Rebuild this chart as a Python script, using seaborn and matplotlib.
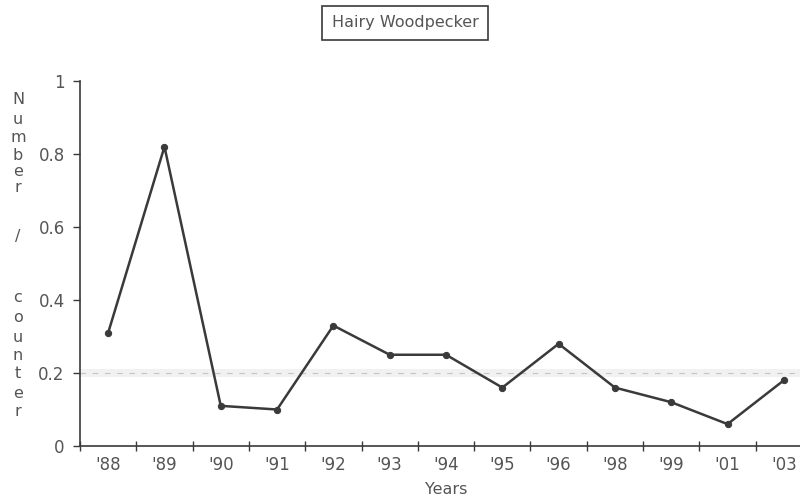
import matplotlib
matplotlib.use("Agg")
import matplotlib.pyplot as plt
import seaborn as sns
import numpy as np
import pandas as pd

years = ["'88", "'89", "'90", "'91", "'92", "'93", "'94", "'95", "'96", "'98", "'99", "'01", "'03"]
per_counter = [0.31, 0.82, 0.11, 0.10, 0.33, 0.25, 0.25, 0.16, 0.28, 0.16, 0.12, 0.06, 0.18]
y_ticks = [0, 0.2, 0.4, 0.6, 0.8, 1]
y_tick_labels = ["0", "0.2", "0.4", "0.6", "0.8", "1"]
title = "Hairy Woodpecker"
x_label = "Years"
y_label_chars = list("Number") + ["/"] + list("counter")

sns.set_theme(style="white")
plt.rcParams["font.family"] = ["DejaVu Sans"]
ink = "#3a3a3a"
soft_ink = "#555555"

df = pd.DataFrame({"year": years, "value": per_counter})

fig = plt.figure(figsize=(8, 5), dpi=100)
ax = fig.add_axes([80 / 800, 54 / 500, 732 / 800, 365 / 500])

# faint reference line at 0.2
ax.axhline(0.2, color="#c4c4c4", lw=0.8, ls=(0, (5, 6)), zorder=1)
ax.axhspan(0.188, 0.212, color="#f1f1f1", lw=0, zorder=0)

sns.lineplot(data=df, x="year", y="value", sort=False, ax=ax, color=ink,
             lw=1.8, marker="o", markersize=4.5, markeredgecolor=ink,
             markerfacecolor=ink, zorder=3)

ax.set_xlim(-0.5, 12.5)
ax.set_ylim(0, 1)
ax.set_xticks(range(len(years)))
ax.set_xticklabels(years, fontsize=12, color=soft_ink)
ax.set_xticks(np.arange(-0.5, len(years) - 0.5, 1), minor=True)
ax.tick_params(axis="x", which="major", length=0, pad=7)
ax.tick_params(axis="x", which="minor", length=7, width=1, direction="inout", color=ink, bottom=True)
ax.set_yticks(y_ticks)
ax.set_yticklabels(y_tick_labels, fontsize=12, color=soft_ink)
ax.tick_params(axis="y", length=5, width=1, direction="out", color=ink, left=True, pad=6)

for side in ["top", "right"]:
    ax.spines[side].set_visible(False)
for side in ["left", "bottom"]:
    ax.spines[side].set_color(ink)
    ax.spines[side].set_linewidth(1.2)

ax.set_xlabel(x_label, fontsize=11.5, color=soft_ink, labelpad=6)
ax.set_ylabel("")

# stacked vertical axis title, one letter per line
char_y = [100, 119, 137, 155, 172, 188, 236, 298, 318, 337, 356, 374, 393, 411]
for ch, yp in zip(y_label_chars, char_y):
    fig.text(18 / 800, 1 - yp / 500, ch, fontsize=11.5, color=soft_ink, ha="center", va="center")

fig.text(0.5 + 5 / 800, 1 - 23 / 500, title, fontsize=11.5, color=soft_ink, ha="center", va="center",
         bbox=dict(boxstyle="square,pad=0.6", facecolor="white", edgecolor=ink, linewidth=1.2))

fig.savefig("out.png", dpi=100)
